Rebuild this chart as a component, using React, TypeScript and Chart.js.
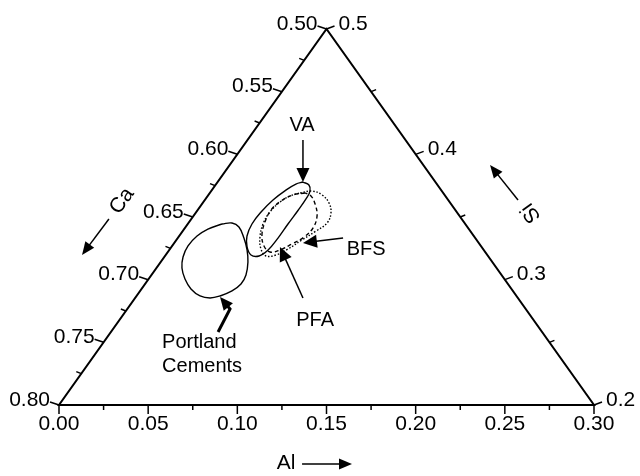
import { useEffect, useRef } from "react";
import { Chart, registerables } from "chart.js";

Chart.register(...registerables);

// ---- Ternary data: compositions (Al, Si); Ca = 1 - Al - Si ----
const portlandAl = [0.0192, 0.0244, 0.0299, 0.0371, 0.0436, 0.0489, 0.053, 0.0538, 0.0515, 0.0468, 0.042, 0.0356, 0.0277, 0.0204, 0.0143, 0.0105, 0.0089, 0.01, 0.0133];
const portlandSi = [0.3444, 0.3452, 0.342, 0.3332, 0.3237, 0.3141, 0.3037, 0.2965, 0.291, 0.287, 0.2854, 0.287, 0.2926, 0.3005, 0.3093, 0.3181, 0.3269, 0.3348, 0.3404];

const vaAl = [0.0479, 0.0524, 0.0554, 0.0563, 0.0564, 0.0562, 0.0562, 0.0554, 0.0527, 0.0478, 0.0424, 0.038, 0.036, 0.0363, 0.0382, 0.0415, 0.0447];
const vaSi = [0.3779, 0.3755, 0.3707, 0.3644, 0.3552, 0.3444, 0.3332, 0.3237, 0.3189, 0.3197, 0.3261, 0.3348, 0.3444, 0.354, 0.3636, 0.3715, 0.3763];

const pfaAl = [0.0534, 0.0474, 0.0431, 0.0411, 0.0425, 0.046, 0.0515, 0.0573, 0.0621, 0.0664, 0.0704, 0.0718, 0.0693, 0.0634, 0.0579];
const pfaSi = [0.3692, 0.3676, 0.3628, 0.3556, 0.346, 0.3356, 0.3269, 0.3221, 0.3237, 0.3285, 0.334, 0.3412, 0.3508, 0.3604, 0.3668];

const bfsAl = [0.0506, 0.0565, 0.0637, 0.0708, 0.0759, 0.0777, 0.0747, 0.0704, 0.0662, 0.0618, 0.0566, 0.051, 0.0457, 0.0422, 0.0413, 0.043, 0.0462];
const bfsSi = [0.3692, 0.3707, 0.3676, 0.3612, 0.3532, 0.3452, 0.3388, 0.3317, 0.3245, 0.3197, 0.3189, 0.3245, 0.334, 0.3444, 0.354, 0.362, 0.3668];

// ---- Axis ticks ----
const alTickValues = [0, 0.05, 0.1, 0.15, 0.2, 0.25, 0.3];
const alTickLabels = ["0.00", "0.05", "0.10", "0.15", "0.20", "0.25", "0.30"];
const caTickValues = [0.5, 0.55, 0.6, 0.65, 0.7, 0.75, 0.8];
const caTickLabels = ["0.50", "0.55", "0.60", "0.65", "0.70", "0.75", "0.80"];
const siTickValues = [0.2, 0.3, 0.4, 0.5];
const siTickLabels = ["0.2", "0.3", "0.4", "0.5"];

// Ternary -> cartesian (x along Al axis, y = Si - 0.2)
const toXY = (al: number, si: number) => ({ x: al + (si - 0.2) / 2, y: si - 0.2 });
const loop = (al: number[], si: number[]) => {
  const pts = al.map((a, i) => toXY(a, si[i]));
  pts.push(pts[0]);
  return pts;
};

const FONT = '"Liberation Sans", Arial, Helvetica, sans-serif';

// annotation positions in chart (cartesian) units
const annotations = {
  va: { label: [0.1363, 0.2234], from: [0.1368, 0.2114], to: [0.1368, 0.1779] },
  pfa: { label: [0.1436, 0.0678], from: [0.1368, 0.0854], to: [0.1239, 0.1261] },
  bfs: { label: [0.1722, 0.1237], from: [0.1593, 0.1332], to: [0.1368, 0.1293] },
  portland: { label1: [0.0578, 0.0495], label2: [0.0578, 0.0311], path: [[0.0892, 0.0582], [0.0959, 0.0766], [0.0903, 0.0862]] },
  ca: { label: [0.0353, 0.1628], from: [0.028, 0.1484], to: [0.0129, 0.1197] },
  si: { label: [0.2647, 0.1532], from: [0.2574, 0.1636], to: [0.2417, 0.1915] },
  al: { label: [0.1273, -0.0463], from: [0.1363, -0.0471], to: [0.1643, -0.0471] },
};

function drawHead(ctx: CanvasRenderingContext2D, x1: number, y1: number, x2: number, y2: number, hl: number, hw: number) {
  const a = Math.atan2(y2 - y1, x2 - x1);
  const bx = x2 - hl * Math.cos(a);
  const by = y2 - hl * Math.sin(a);
  ctx.beginPath();
  ctx.moveTo(x2, y2);
  ctx.lineTo(bx + (hw / 2) * Math.sin(a), by - (hw / 2) * Math.cos(a));
  ctx.lineTo(bx - (hw / 2) * Math.sin(a), by + (hw / 2) * Math.cos(a));
  ctx.closePath();
  ctx.fill();
}

function drawArrow(ctx: CanvasRenderingContext2D, pts: number[][], hl: number, hw: number, lw: number) {
  ctx.save();
  ctx.lineWidth = lw;
  ctx.strokeStyle = "#000";
  ctx.fillStyle = "#000";
  ctx.setLineDash([]);
  const n = pts.length;
  const [px, py] = pts[n - 2];
  const [tx, ty] = pts[n - 1];
  const a = Math.atan2(ty - py, tx - px);
  ctx.beginPath();
  ctx.moveTo(pts[0][0], pts[0][1]);
  for (let i = 1; i < n - 1; i++) ctx.lineTo(pts[i][0], pts[i][1]);
  ctx.lineTo(tx - hl * 0.8 * Math.cos(a), ty - hl * 0.8 * Math.sin(a));
  ctx.stroke();
  drawHead(ctx, px, py, tx, ty, hl, hw);
  ctx.restore();
}

const ternaryPlugin = {
  id: "ternaryAxes",
  afterDatasetsDraw(chart: any) {
    const ctx: CanvasRenderingContext2D = chart.ctx;
    const xs = chart.scales.x;
    const ys = chart.scales.y;
    const P = (x: number, y: number) => [xs.getPixelForValue(x), ys.getPixelForValue(y)];
    const T = (al: number, si: number) => {
      const c = toXY(al, si);
      return P(c.x, c.y);
    };
    ctx.save();
    ctx.strokeStyle = "#000";
    ctx.fillStyle = "#000";
    ctx.setLineDash([]);
    // triangle
    const A = T(0, 0.2), B = T(0.3, 0.2), C = T(0, 0.5);
    ctx.lineWidth = 2;
    ctx.beginPath();
    ctx.moveTo(A[0], A[1]);
    ctx.lineTo(B[0], B[1]);
    ctx.lineTo(C[0], C[1]);
    ctx.closePath();
    ctx.stroke();

    ctx.lineWidth = 1.5;
    ctx.font = "21px " + FONT;
    // bottom (Al) axis
    for (let i = 0; i <= 12; i++) {
      const [px, py] = T(i * 0.025, 0.2);
      const major = i % 2 === 0;
      ctx.beginPath();
      ctx.moveTo(px, py);
      ctx.lineTo(px, py + (major ? 9 : 5));
      ctx.stroke();
    }
    ctx.textAlign = "center";
    ctx.textBaseline = "middle";
    alTickValues.forEach((v, i) => {
      const [px, py] = T(v, 0.2);
      ctx.fillText(alTickLabels[i], px, py + 19);
    });
    // left (Ca) axis: Al = 0, Si = 1 - Ca
    for (let i = 0; i <= 12; i++) {
      const ca = 0.5 + i * 0.025;
      const [px, py] = T(0, 1 - ca);
      const major = i % 2 === 0;
      ctx.beginPath();
      ctx.moveTo(px, py);
      ctx.lineTo(px - (major ? 9 : 5), py - (major ? 3 : 2));
      ctx.stroke();
    }
    ctx.textAlign = "right";
    caTickValues.forEach((v, i) => {
      const [px, py] = T(0, 1 - v);
      ctx.fillText(caTickLabels[i], px - 9, py - 5);
    });
    // right (Si) axis: Ca = 0.5, Al = 0.5 - Si
    for (let i = 0; i <= 6; i++) {
      const si = 0.2 + i * 0.05;
      const [px, py] = T(0.5 - si, si);
      const major = i % 2 === 0;
      ctx.beginPath();
      ctx.moveTo(px, py);
      ctx.lineTo(px + (major ? 8 : 5), py - (major ? 3 : 2));
      ctx.stroke();
    }
    ctx.textAlign = "left";
    siTickValues.forEach((v, i) => {
      const [px, py] = T(0.5 - v, v);
      ctx.fillText(siTickLabels[i], px + 12, py - 5);
    });

    // axis titles with arrows
    const edgeAngle = Math.atan2(C[1] - A[1], C[0] - A[0]);
    const rEdgeAngle = Math.atan2(C[1] - B[1], C[0] - B[0]);
    ctx.textAlign = "center";
    ctx.font = "21px " + FONT;
    let p = P(annotations.ca.label[0], annotations.ca.label[1]);
    ctx.save();
    ctx.translate(p[0], p[1]);
    ctx.rotate(edgeAngle);
    ctx.fillText("Ca", 0, 0);
    ctx.restore();
    p = P(annotations.si.label[0], annotations.si.label[1]);
    ctx.save();
    ctx.translate(p[0], p[1]);
    ctx.rotate(rEdgeAngle);
    ctx.fillText("Si", 0, 0);
    ctx.restore();
    p = P(annotations.al.label[0], annotations.al.label[1]);
    ctx.fillText("Al", p[0], p[1]);

    const arr = (from: number[], to: number[], hl: number, hw: number, lw: number) =>
      drawArrow(ctx, [P(from[0], from[1]), P(to[0], to[1])], hl, hw, lw);
    arr(annotations.ca.from, annotations.ca.to, 13, 11, 1.5);
    arr(annotations.si.from, annotations.si.to, 13, 11, 1.5);
    arr(annotations.al.from, annotations.al.to, 13, 11, 1.5);

    // region labels
    ctx.font = "20px " + FONT;
    ctx.textAlign = "center";
    p = P(annotations.va.label[0], annotations.va.label[1]);
    ctx.fillText("VA", p[0], p[1]);
    p = P(annotations.pfa.label[0], annotations.pfa.label[1]);
    ctx.fillText("PFA", p[0], p[1]);
    p = P(annotations.bfs.label[0], annotations.bfs.label[1]);
    ctx.fillText("BFS", p[0], p[1]);
    ctx.textAlign = "left";
    p = P(annotations.portland.label1[0], annotations.portland.label1[1]);
    ctx.fillText("Portland", p[0], p[1]);
    p = P(annotations.portland.label2[0], annotations.portland.label2[1]);
    ctx.fillText("Cements", p[0], p[1]);

    arr(annotations.va.from, annotations.va.to, 14, 13, 1.5);
    arr(annotations.pfa.from, annotations.pfa.to, 14, 13, 1.5);
    arr(annotations.bfs.from, annotations.bfs.to, 14, 13, 1.5);
    drawArrow(ctx, annotations.portland.path.map((q) => P(q[0], q[1])), 13, 12, 3);
    ctx.restore();
  },
};

export default function App() {
  const ref = useRef<HTMLCanvasElement | null>(null);
  useEffect(() => {
    if (!ref.current) return;
    const line = (data: any[], dash: number[], width: number) => ({
      data,
      showLine: true,
      borderColor: "#000",
      borderWidth: width,
      borderDash: dash,
      pointRadius: 0,
      tension: 0.4,
      fill: false,
    });
    const chart = new Chart(ref.current, {
      type: "scatter",
      data: {
        datasets: [
          { label: "Portland Cements", ...line(loop(portlandAl, portlandSi), [], 1.4) },
          { label: "VA", ...line(loop(vaAl, vaSi), [], 1.4) },
          { label: "PFA", ...line(loop(pfaAl, pfaSi), [4, 3], 1.4) },
          { label: "BFS", ...line(loop(bfsAl, bfsSi), [1.5, 1.8], 1.4) },
        ],
      },
      options: {
        responsive: false,
        animation: false,
        layout: { padding: { left: 59, right: 46, top: 29, bottom: 71 } },
        scales: {
          x: { type: "linear", min: 0, max: 0.3, display: false },
          y: { type: "linear", min: 0, max: 0.3, display: false },
        },
        plugins: { legend: { display: false }, tooltip: { enabled: false } },
      },
      plugins: [ternaryPlugin],
    });
    return () => chart.destroy();
  }, []);
  return (
    <div style={{ position: "fixed", left: 0, top: 0, width: 640, height: 476, background: "#fff" }}>
      <canvas ref={ref} width={640} height={476} />
    </div>
  );
}
